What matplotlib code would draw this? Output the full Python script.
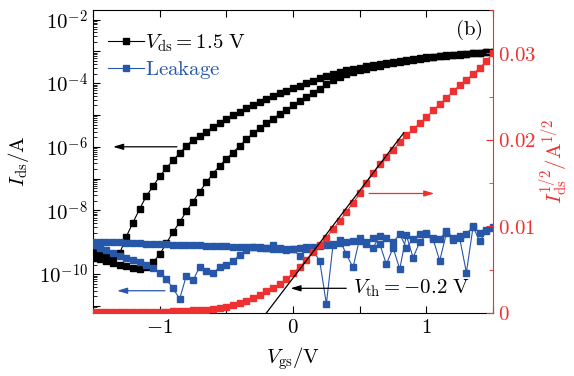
import numpy as np
import matplotlib
matplotlib.use("Agg")
import matplotlib.pyplot as plt
from matplotlib.ticker import LogLocator, FuncFormatter, MultipleLocator, NullFormatter

plt.rcParams['mathtext.fontset'] = 'cm'
plt.rcParams['font.family'] = 'DejaVu Serif'

# gate voltage grid (V)
vgs = np.round(np.arange(-1.5, 1.5001, 0.05), 2)

# log10(Ids/A)
log_ids_a = [-9.35, -9.4, -9.42, -9.42, -9.35, -8.82, -8.38, -7.95, -7.55, -7.24,
             -6.93, -6.67, -6.43, -6.2, -5.97, -5.78, -5.65, -5.52, -5.38, -5.25,
             -5.13, -5.01, -4.9, -4.79, -4.69, -4.59, -4.5, -4.41, -4.32, -4.24,
             -4.16, -4.08, -4.0, -3.92, -3.84, -3.77, -3.71, -3.65, -3.6, -3.55,
             -3.51, -3.47, -3.43, -3.39, -3.36, -3.33, -3.3, -3.27, -3.24, -3.22,
             -3.19, -3.17, -3.15, -3.13, -3.11, -3.09, -3.07, -3.05, -3.04, -3.02,
             -3.01]
log_ids_b = [-9.5, -9.53, -9.58, -9.65, -9.7, -9.74, -9.8, -9.85, -9.78, -9.63,
             -9.38, -9.03, -8.68, -8.37, -8.03, -7.72, -7.41, -7.12, -6.84, -6.6,
             -6.38, -6.18, -5.97, -5.77, -5.57, -5.42, -5.26, -5.12, -4.97, -4.84,
             -4.7, -4.56, -4.43, -4.3, -4.17, -4.03, -3.9, -3.81, -3.72, -3.65,
             -3.59, -3.54, -3.49, -3.45, -3.41, -3.37, -3.33, -3.3, -3.27, -3.24,
             -3.21, -3.19, -3.16, -3.14, -3.12, -3.1, -3.08, -3.06, -3.05, -3.03,
             -3.02]

# leakage, log10(I/A)
log_leak_u = [-9.0, -8.98, -8.98, -8.99, -9.0, -9.01, -9.02, -9.03, -9.04, -9.05,
              -9.05, -9.06, -9.07, -9.08, -9.09, -9.1, -9.1, -9.11, -9.12, -9.13,
              -9.13, -9.14, -9.15, -9.15, -9.16, -9.17, -9.18, -9.1, -9.19, -9.2,
              -9.2, -9.18, -9.16, -9.14, -9.12, -9.1, -9.05, -9.02, -9.0, -8.97,
              -8.95, -9.05, -9.17, -8.8, -8.85, -9.0, -8.75, -9.17, -8.9, -8.75,
              -8.7, -8.85, -8.9, -8.65, -8.85, -8.8, -8.75, -8.5, -8.7, -8.62,
              -8.55]
log_leak_l = [-9.08, -9.17, -9.25, -9.33, -9.42, -9.48, -9.55, -9.62, -9.7, -9.8,
              -9.95, -10.16, -10.45, -10.78, -10.05, -10.2, -9.77, -9.9, -9.95, -9.79,
              -9.72, -9.58, -9.4, -9.25, -9.15, -9.15, -9.17, -9.2, -9.22, -9.25,
              -9.22, -9.43, -9.2, -9.27, -9.58, -10.94, -9.08, -8.92, -9.38, -9.79,
              -8.87, -9.0, -8.85, -9.05, -9.69, -9.17, -9.84, -8.78, -9.48, -9.0,
              -8.75, -8.9, -9.58, -8.72, -8.92, -8.88, -9.95, -8.52, -8.96, -8.66,
              -8.52]

# sqrt(Ids) in A^1/2
sqrt_ids = [0.0001, 0.0001, 0.0001, 0.0001, 0.0001, 0.0001, 0.0001, 0.0001,
            0.00012, 0.00013, 0.00015, 0.00017, 0.0002, 0.00023, 0.00026, 0.0003,
            0.00034, 0.0004, 0.00048, 0.00058, 0.0007, 0.00088, 0.0011, 0.0014,
            0.0017, 0.0021, 0.0025, 0.0029, 0.0033, 0.0039, 0.0046, 0.0053,
            0.0061, 0.007, 0.0078, 0.0087, 0.0097, 0.0106, 0.0117, 0.0127,
            0.0138, 0.015, 0.0162, 0.0172, 0.018, 0.0188, 0.0197, 0.0205,
            0.0212, 0.0219, 0.0226, 0.0234, 0.0241, 0.0248, 0.0256, 0.0263,
            0.0269, 0.0276, 0.0283, 0.0291, 0.03]

# linear fit for threshold
fit_v = [-0.2, 0.83]
fit_y = [0.0, 0.0208]

red = '#ee3030'
blue = '#2657a8'
fs = 15

fig = plt.figure(figsize=(5.74, 3.76), dpi=100)
ax = fig.add_axes([0.162, 0.1676, 0.697, 0.806])

ax.plot(vgs, 10 ** np.array(log_ids_a), 's-', color='black', ms=4.8, lw=0.8, zorder=2)
ax.plot(vgs, 10 ** np.array(log_ids_b), 's-', color='black', ms=4.8, lw=0.8, zorder=2,
        label=r'$V_{\rm ds} = 1.5\ \rm V$')
ax.plot(vgs, 10 ** np.array(log_leak_l), 's-', color=blue, ms=5, lw=0.8, zorder=3)
ax.plot(vgs, 10 ** np.array(log_leak_u), 's-', color=blue, ms=5, lw=0.8, zorder=3,
        label=r'$\rm Leakage$')

ax.set_yscale('log')
ax.set_xlim(-1.5, 1.5)
ax.set_ylim(6e-12, 2e-2)
ax.yaxis.set_major_locator(LogLocator(base=10, numticks=20))
ax.yaxis.set_minor_locator(LogLocator(base=10, subs=np.arange(2, 10), numticks=20))
ax.yaxis.set_major_formatter(FuncFormatter(
    lambda v, p: r'$10^{%d}$' % round(np.log10(v)) if round(np.log10(v)) % 2 == 0 else ''))
ax.yaxis.set_minor_formatter(NullFormatter())
ax.xaxis.set_major_locator(MultipleLocator(1))
ax.xaxis.set_minor_locator(MultipleLocator(0.5))
ax.xaxis.set_major_formatter(FuncFormatter(lambda v, p: r'$%d$' % round(v)))
ax.tick_params(which='both', direction='in', top=True, right=False, labelsize=fs)
ax.tick_params(which='major', length=5, width=0.8)
ax.tick_params(which='minor', length=3, width=0.6)
ax.tick_params(axis='x', which='minor', length=5, width=0.8)
ax.spines['right'].set_visible(False)

ax.set_xlabel(r'$V_{\rm gs}/\rm V$', fontsize=fs, labelpad=6)
ax.set_ylabel(r'$I_{\rm ds}/\rm A$', fontsize=fs, labelpad=6)

leg = ax.legend(loc='upper left', bbox_to_anchor=(0.0, 0.975), frameon=False, fontsize=fs,
                handlelength=1.75, handletextpad=0.05, borderaxespad=0.3, labelspacing=0.25)
leg.get_texts()[1].set_color(blue)

ax.annotate('', xy=(-1.37, 1e-6), xytext=(-0.85, 1e-6),
            arrowprops=dict(arrowstyle='-|>,head_length=0.6,head_width=0.18', color='black', lw=0.9))
ax.annotate('', xy=(-1.34, 3e-11), xytext=(-0.94, 3e-11),
            arrowprops=dict(arrowstyle='-|>,head_length=0.6,head_width=0.18', color=blue, lw=0.9))

ax2 = ax.twinx()
ax2.plot(vgs, sqrt_ids, 's-', color=red, ms=4.8, lw=0.8, zorder=4)
ax2.plot(fit_v, fit_y, '-', color='black', lw=0.9, zorder=5)
ax2.set_ylim(0, 0.035)
ax2.yaxis.set_major_locator(MultipleLocator(0.01))
ax2.yaxis.set_minor_locator(MultipleLocator(0.005))
ax2.yaxis.set_major_formatter(FuncFormatter(lambda v, p: r'$%g$' % round(v, 3)))
ax2.tick_params(which='both', direction='in', colors=red, labelsize=fs)
ax2.tick_params(which='major', length=5, width=0.8)
ax2.tick_params(which='minor', length=3, width=0.6)
ax2.spines['right'].set_color(red)
ax2.spines['left'].set_visible(False)
ax2.spines['top'].set_visible(False)
ax2.spines['bottom'].set_visible(False)
ax2.set_ylabel(r'$I_{\rm ds}^{1/2}/{\rm A}^{1/2}$', color=red, fontsize=fs, labelpad=1)

ax2.annotate('', xy=(1.08, 0.0138), xytext=(0.55, 0.0138),
             arrowprops=dict(arrowstyle='-|>,head_length=0.6,head_width=0.18', color=red, lw=0.9))
ax2.annotate('', xy=(-0.04, 0.00285), xytext=(0.42, 0.00285),
             arrowprops=dict(arrowstyle='-|>,head_length=0.6,head_width=0.18', color='black', lw=0.9))
ax2.text(0.45, 0.00285, r'$V_{\rm th} = -0.2\ \rm V$', fontsize=fs, va='center', ha='left')
ax2.text(0.94, 0.935, r'$\rm (b)$', transform=ax2.transAxes, fontsize=fs, ha='center', va='center')

fig.savefig('out.png', dpi=100)
